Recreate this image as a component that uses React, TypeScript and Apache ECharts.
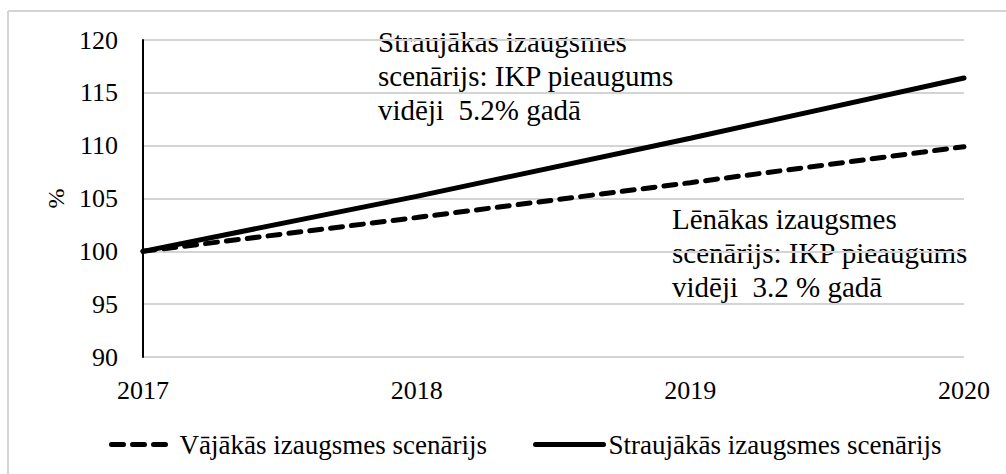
import React, { useEffect, useRef } from "react";
import * as echarts from "echarts";

const years = ["2017", "2018", "2019", "2020"];
const slowName = "Vājākās izaugsmes scenārijs";
const fastName = "Straujākās izaugsmes scenārijs";
const slowValues = [100, 103.2, 106.5, 109.9];
const fastValues = [100, 105.2, 110.7, 116.4];
const yMin = 90;
const yMax = 120;
const yStep = 5;
const yName = "%";
const fastNote = "Straujākas izaugsmes\nscenārijs: IKP pieaugums\nvidēji  5.2% gadā";
const slowNote = "Lēnākas izaugsmes\nscenārijs: IKP pieaugums\nvidēji  3.2 % gadā";

const FONT = "Liberation Serif";
const GRID = "#d4d4d4";

export default function App() {
  const ref = useRef<HTMLDivElement>(null);
  useEffect(() => {
    document.body.style.margin = "0";
    if (!ref.current) return;
    const chart = echarts.init(ref.current, null, { renderer: "svg" });
    chart.setOption({
      animation: false,
      backgroundColor: "#ffffff",
      textStyle: { fontFamily: FONT, color: "#000" },
      grid: { left: 143, right: 42, top: 40, bottom: 117, containLabel: false },
      xAxis: {
        type: "category",
        data: years,
        boundaryGap: false,
        axisLine: { show: false },
        axisTick: { show: false },
        axisLabel: { color: "#000", fontSize: 26, fontFamily: FONT, margin: 20 },
        splitLine: { show: false },
      },
      yAxis: {
        type: "value",
        min: yMin,
        max: yMax,
        interval: yStep,
        name: yName,
        nameLocation: "middle",
        nameGap: 74,
        nameTextStyle: { color: "#000", fontSize: 24, fontFamily: FONT },
        axisLine: { show: true, onZero: false, lineStyle: { color: "#000", width: 2 } },
        axisTick: { show: false },
        axisLabel: { color: "#000", fontSize: 26, fontFamily: FONT, margin: 25 },
        splitLine: { show: true, lineStyle: { color: GRID, width: 2, type: "solid" } },
      },
      legend: [
        {
          data: [slowName],
          left: 104,
          top: 426,
          itemWidth: 63,
          itemHeight: 26,
          textStyle: { color: "#000", fontSize: 27, fontFamily: FONT, padding: 0 },
          itemStyle: { opacity: 0 },
          lineStyle: { width: 5, type: [12, 9], cap: "round", color: "#000" },
        },
        {
          data: [fastName],
          left: 528,
          top: 426,
          itemWidth: 68,
          itemHeight: 26,
          textStyle: { color: "#000", fontSize: 27, fontFamily: FONT, padding: 0 },
          itemStyle: { opacity: 0 },
          lineStyle: { width: 5, cap: "round", color: "#000" },
        },
      ],
      graphic: [
        {
          type: "line",
          silent: true,
          shape: { x1: 8, y1: 11, x2: 1006, y2: 11 },
          style: { stroke: GRID, lineWidth: 2 },
        },
        {
          type: "line",
          silent: true,
          shape: { x1: 8, y1: 11, x2: 8, y2: 474 },
          style: { stroke: GRID, lineWidth: 2 },
        },
        {
          type: "text",
          x: 378,
          y: 25,
          style: {
            text: fastNote,
            font: `29px ${FONT}`,
            lineHeight: 34,
            fill: "#000",
            verticalAlign: "top",
          },
        },
        {
          type: "text",
          x: 672,
          y: 202,
          style: {
            text: slowNote,
            font: `29px ${FONT}`,
            lineHeight: 34,
            fill: "#000",
            verticalAlign: "top",
          },
        },
      ],
      series: [
        {
          name: slowName,
          type: "line",
          data: slowValues,
          symbol: "none",
          lineStyle: { color: "#000", width: 5, type: [12, 9], cap: "round" },
          itemStyle: { color: "#000" },
          z: 3,
        },
        {
          name: fastName,
          type: "line",
          data: fastValues,
          symbol: "none",
          lineStyle: { color: "#000", width: 5, cap: "round" },
          itemStyle: { color: "#000" },
          z: 4,
        },
      ],
    });
    return () => chart.dispose();
  }, []);
  return <div ref={ref} style={{ width: 1006, height: 474 }} />;
}
